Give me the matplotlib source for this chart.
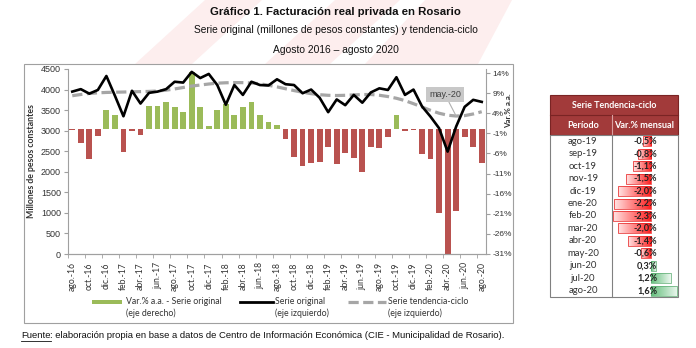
import numpy as np
import matplotlib

matplotlib.use("Agg")
import matplotlib.pyplot as plt
from matplotlib.patches import Rectangle, Polygon
from matplotlib.colors import to_rgb

W, H = 696, 348

meses = ["ene", "feb", "mar", "abr", "may", "jun", "jul", "ago", "sep", "oct", "nov", "dic"]
# agosto 2016 ... agosto 2020
periodos = [f"{meses[(7 + k) % 12]}.-{16 + (7 + k) // 12}" for k in range(49)]

# Var.% interanual de la serie original (eje derecho)
var_aa = [
    -0.2, -3.5, -7.5, -1.7, 4.7, 3.6, -5.6, -0.4, -1.4, 5.8,
    5.8, 6.8, 5.6, 4.3, 14.3, 5.5, 0.8, 4.8, 6.3, 3.5,
    5.5, 6.9, 3.5, 1.9, 1.0, -2.3, -6.9, -9.2, -8.4, -8.0,
    -4.5, -8.6, -5.8, -7.1, -10.6, -4.3, -4.7, -1.8, 3.6, -0.5,
    -0.2, -6.2, -7.3, -20.7, -30.9, -20.3, -1.8, -4.4, -8.4,
]

# Serie original, millones de pesos constantes (eje izquierdo)
serie_original = [
    3950, 4010, 3900, 3990, 4330, 3850, 3350, 3970, 3660, 3920,
    3950, 4010, 4190, 4170, 4430, 4280, 4380, 4110, 3630, 4110,
    3870, 4190, 4110, 4100, 4250, 4130, 4110, 3910, 4000, 3800,
    3450, 3760, 3620, 3870, 3680, 3930, 4030, 3990, 4300, 3870,
    4000, 3590, 3340, 3060, 2490, 3100, 3580, 3750, 3700,
]

# Serie tendencia-ciclo (eje izquierdo)
tendencia = [
    3850, 3880, 3905, 3920, 3930, 3935, 3940, 3945, 3950, 3955,
    3965, 3985, 4015, 4050, 4085, 4110, 4135, 4155, 4165, 4170,
    4168, 4160, 4140, 4105, 4065, 4020, 3975, 3935, 3900, 3875,
    3860, 3855, 3860, 3870, 3878, 3880, 3861, 3830, 3788, 3731,
    3656, 3576, 3494, 3424, 3376, 3356, 3366, 3406, 3461,
]

# Tabla: var.% mensual de la tendencia-ciclo
tabla_periodos = ["ago-19", "sep-19", "oct-19", "nov-19", "dic-19", "ene-20", "feb-20",
                  "mar-20", "abr-20", "may-20", "jun-20", "jul-20", "ago-20"]
tabla_var = [-0.5, -0.8, -1.1, -1.5, -2.0, -2.2, -2.3, -2.0, -1.4, -0.6, 0.3, 1.2, 1.6]

VERDE = "#9bbb59"
ROJO = "#b9524f"
GRIS_T = "#a6a6a6"
TXT = "#333333"
SANS = ["Liberation Sans", "DejaVu Sans"]
CAL = ["Lato", "DejaVu Sans"]


def px(x0, y0, x1, y1):
    """pixel box (top-left origin) -> figure rect"""
    return [x0 / W, 1 - y1 / H, (x1 - x0) / W, (y1 - y0) / H]


fig = plt.figure(figsize=(W / 100, H / 100), dpi=100)
bg = fig.add_axes([0, 0, 1, 1])
bg.set_xlim(0, W)
bg.set_ylim(H, 0)
bg.axis("off")

# faint logo stripes behind the header
for pts in [
    [(205, 0), (262, 0), (192, 64), (135, 64)],
    [(335, 0), (400, 0), (330, 64), (265, 64)],
    [(425, 0), (512, 0), (478, 64), (365, 64)],
]:
    bg.add_patch(Polygon(pts, closed=True, fc="#fdeeee", ec="none", zorder=0))

# chart frame
bg.add_patch(Rectangle((24, 64), 489, 259, fc="white", ec="#a0a0a0", lw=0.8, zorder=1))

bg.text(335, 12, "Gráfico 1. Facturación real privada en Rosario", ha="center", va="center",
        fontsize=8.2, fontweight="bold", family=SANS, color="#111111")
bg.text(336, 30, "Serie original (millones de pesos constantes) y tendencia-ciclo", ha="center",
        va="center", fontsize=7.4, family=SANS, color="#111111")
bg.text(336, 50, "Agosto 2016 – agosto 2020", ha="center", va="center", fontsize=7.4,
        family=SANS, color="#111111")

# footer with underlined "Fuente"
t = bg.text(21, 336, "Fuente", ha="left", va="center", fontsize=6.8, family=SANS, color="#111111")
fig.canvas.draw()
x_end = t.get_window_extent().x1
bg.plot([21, x_end], [340.5, 340.5], color="#111111", lw=0.6)
bg.text(x_end, 336, ": elaboración propia en base a datos de Centro de Información Económica "
        "(CIE - Municipalidad de Rosario).", ha="left", va="center", fontsize=6.8,
        family=SANS, color="#111111")

# main plot
ax = fig.add_axes(px(68, 69, 486, 254))
axr = ax.twinx()
ax.set_zorder(axr.get_zorder() + 1)
ax.patch.set_visible(False)

x = np.arange(len(periodos))
colores = [VERDE if v >= 0 else ROJO for v in var_aa]
axr.bar(x, var_aa, width=0.68, color=colores)
axr.set_ylim(-31, 15)
axr.set_yticks(np.arange(-31, 15, 5))
axr.yaxis.set_major_formatter(lambda v, p: f"{v:.0f}%")

ax.plot(x, tendencia, color=GRIS_T, lw=2.3, dashes=(3.2, 1.4), zorder=2)
ax.plot(x, serie_original, color="black", lw=1.9, zorder=3)
ax.set_ylim(0, 4500)
ax.set_yticks(np.arange(0, 4501, 500))
ax.set_xlim(-0.5, len(periodos) - 0.5)
ax.set_xticks(x[::2])
ax.set_xticklabels(periodos[::2], rotation=90, fontsize=6.2, family=CAL, color=TXT)
ax.set_xticks(np.arange(-0.5, len(periodos), 2), minor=True)
ax.tick_params(axis="x", which="major", length=0, pad=6)
ax.tick_params(axis="x", which="minor", length=3, color="#a0a0a0")
ax.tick_params(axis="y", length=3, color="#a0a0a0", pad=2, labelsize=6.5, labelcolor=TXT)
axr.tick_params(axis="y", length=3, color="#a0a0a0", pad=1.5, labelsize=6.0, labelcolor=TXT)
for lab in ax.get_yticklabels() + axr.get_yticklabels():
    lab.set_family(SANS)
for a in (ax, axr):
    a.spines["top"].set_visible(False)
    for s in ("left", "right", "bottom"):
        a.spines[s].set_color("#a0a0a0")
        a.spines[s].set_linewidth(0.8)
ax.spines["right"].set_visible(False)
axr.spines["left"].set_visible(False)

ax.set_ylabel("Millones de pesos constantes", fontsize=6.3, fontweight="bold", family=CAL,
              color=TXT, labelpad=4)
bg.text(508.5, 111, "Var.% a.a.", rotation=90, ha="center", va="center", fontsize=5.8,
        fontweight="bold", family=CAL, color=TXT)

ax.annotate("may.-20", xy=(45, tendencia[45]), xytext=(445, H - 94.5),
            textcoords="figure pixels", ha="center", va="center", fontsize=6.5,
            family=SANS, color="#404040",
            bbox=dict(boxstyle="square,pad=0.35", fc="#c8c8c8", ec="none"),
            arrowprops=dict(arrowstyle="-", color="#b0b0b0", lw=0.8, shrinkA=0, shrinkB=0))

# legend
bg.add_patch(Rectangle((92, 300), 30, 4, fc=VERDE, ec="none", zorder=2))
bg.plot([240, 273], [302, 302], color="black", lw=2.0)
bg.plot([348, 386], [302, 302], color=GRIS_T, lw=2.3, dashes=(3.2, 1.4))
for x0, l1, l2 in [(126, "Var.% a.a. - Serie original", "(eje derecho)"),
                   (275, "Serie original", "(eje izquierdo)"),
                   (388, "Serie tendencia-ciclo", "(eje izquierdo)")]:
    bg.text(x0, 302, l1, ha="left", va="center", fontsize=6.3, family=CAL, color=TXT)
    bg.text(x0, 313, l2, ha="left", va="center", fontsize=6.3, family=CAL, color=TXT)

# table
TX0, TX1, TXM = 550, 678, 612
TY0, TY1, TY2 = 95, 115, 135
n = len(tabla_periodos)
rh = (297 - TY2) / n
HDR = "#a23a3a"
bg.add_patch(Rectangle((TX0, TY0), TX1 - TX0, TY2 - TY0, fc=HDR, ec="#7a2424", lw=0.8, zorder=2))
bg.plot([TX0, TX1], [TY1, TY1], color="#7a2424", lw=0.8, zorder=3)
bg.plot([TXM, TXM], [TY1, TY2], color="#d9a0a0", lw=0.8, zorder=3)
bg.text((TX0 + TX1) / 2, (TY0 + TY1) / 2, "Serie Tendencia-ciclo", ha="center", va="center",
        fontsize=6.4, fontweight="bold", family=CAL, color="white", zorder=4)
bg.text(583, (TY1 + TY2) / 2, "Período", ha="center", va="center", fontsize=6.6,
        fontweight="bold", family=CAL, color="white", zorder=4)
bg.text(644, (TY1 + TY2) / 2, "Var.% mensual", ha="center", va="center", fontsize=6.6,
        fontweight="bold", family=CAL, color="white", zorder=4)
bg.add_patch(Rectangle((TX0, TY2), TX1 - TX0, 297 - TY2, fc="white", ec="#808080", lw=0.8, zorder=2))
bg.plot([TXM, TXM], [TY2, 297], color="#808080", lw=0.8, zorder=3)
for i, p in enumerate(tabla_periodos):
    bg.text(583, TY2 + rh * (i + 0.5), p, ha="center", va="center", fontsize=6.8,
            family=CAL, color=TXT, zorder=4)

tb = fig.add_axes(px(TXM, TY2, TX1, 297))
tb.axis("off")
for i, v in enumerate(tabla_var):
    col = np.array(to_rgb("#ff2020" if v < 0 else "#63be7b"))
    t_ = np.linspace(1.0, 0.12, 64)
    grad = col[None, :] * t_[:, None] + (1 - t_[:, None])
    if v < 0:
        grad = grad[::-1]
    tb.imshow(grad[None, :, :], extent=(min(v, 0), max(v, 0), i + 0.4, i - 0.4),
              aspect="auto", interpolation="bilinear", zorder=1)
    tb.add_patch(Rectangle((min(v, 0), i - 0.4), abs(v), 0.8, fill=False, ec=col * 0.9,
                           lw=0.5, zorder=2))
    tb.text(0.4, i, f"{v:.1f}%".replace(".", ","), ha="right", va="center", fontsize=6.6,
            fontweight="bold", family=CAL, color="#222222", zorder=3)
tb.set_xlim(-2.35, 1.65)
tb.set_ylim(n - 0.5, -0.5)

fig.savefig("out.png", dpi=100)
